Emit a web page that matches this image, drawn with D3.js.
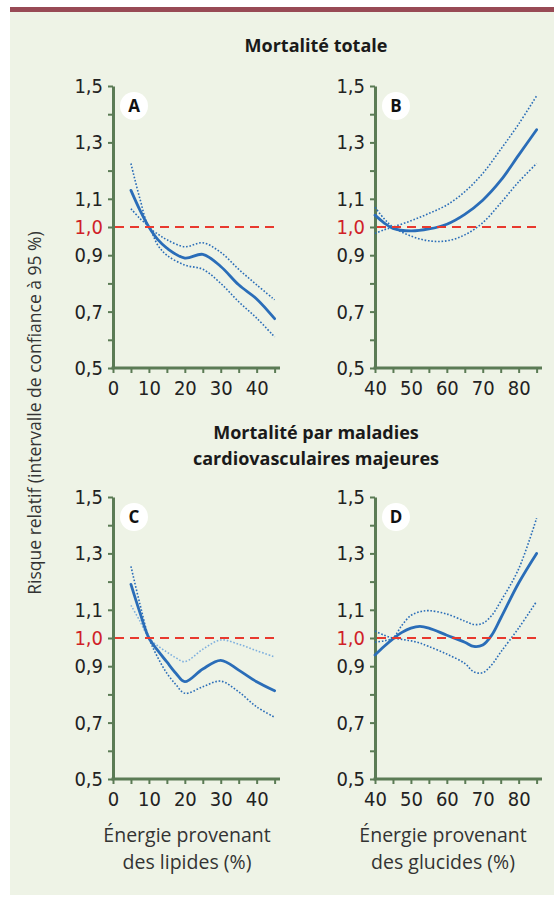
<!DOCTYPE html>
<html>
<head>
<meta charset="utf-8">
<script src="https://cdn.jsdelivr.net/npm/d3@7"></script>
<style>
  body { margin: 0; background: #fff; }
  svg { display: block; }
  .tick text { font-family: "Liberation Sans Narrow", "DejaVu Sans Condensed", sans-serif; }
</style>
</head>
<body>
<div id="chart"></div>
<script>
// Width and height
var w = 554;
var h = 897;

// Panel A : mortalité totale vs lipides
var lipidX = [5, 7.5, 10, 12.5, 15, 20, 25, 30, 35, 40, 45];
var aRR    = [1.13, 1.06, 1.0, 0.955, 0.925, 0.89, 0.903, 0.86, 0.795, 0.745, 0.675];
var aHigh  = [1.225, 1.10, 1.0, 0.975, 0.955, 0.93, 0.944, 0.91, 0.85, 0.795, 0.742];
var aLow   = [1.065, 1.03, 1.0, 0.935, 0.9, 0.865, 0.85, 0.80, 0.735, 0.677, 0.61];

// Panel B : mortalité totale vs glucides
var glucX = [40, 42.5, 45, 50, 55, 60, 65, 70, 75, 80, 85];
var bRR   = [1.042, 1.015, 0.995, 0.986, 0.993, 1.01, 1.045, 1.095, 1.165, 1.255, 1.345];
var bHigh = [0.977, 0.99, 1.0, 1.022, 1.048, 1.078, 1.125, 1.19, 1.275, 1.365, 1.465];
var bLow  = [1.07, 1.03, 1.0, 0.968, 0.951, 0.951, 0.972, 1.015, 1.085, 1.16, 1.225];

// Panel C : maladies cardiovasculaires vs lipides
var lipidX2 = [5, 7.5, 10, 12.5, 15, 17.5, 20, 25, 30, 35, 40, 45];
var cRR   = [1.19, 1.09, 1.0, 0.955, 0.915, 0.875, 0.845, 0.89, 0.921, 0.886, 0.845, 0.813];
var cHigh = [1.116, 1.06, 1.0, 0.972, 0.95, 0.93, 0.916, 0.96, 0.993, 0.978, 0.955, 0.933];
var cLow  = [1.254, 1.12, 1.0, 0.93, 0.875, 0.835, 0.804, 0.827, 0.847, 0.809, 0.756, 0.719];

// Panel D : maladies cardiovasculaires vs glucides
var glucX2 = [40, 42.5, 45, 47.5, 50, 52.5, 55, 60, 65, 67.5, 70, 72.5, 75, 80, 85];
var dRR   = [0.94, 0.97, 0.997, 1.02, 1.035, 1.041, 1.035, 1.01, 0.985, 0.97, 0.975, 1.01, 1.07, 1.195, 1.30];
var dHigh = [0.985, 0.99, 1.0, 1.045, 1.08, 1.093, 1.097, 1.085, 1.06, 1.048, 1.052, 1.08, 1.13, 1.245, 1.425];
var dLow  = [1.025, 1.01, 1.0, 0.995, 0.99, 0.982, 0.97, 0.943, 0.91, 0.88, 0.877, 0.905, 0.95, 1.035, 1.13];

// Ticks
var yTicks = [0.5, 0.6, 0.7, 0.8, 0.9, 1.0, 1.1, 1.2, 1.3, 1.4, 1.5];
var yLabels = [0.5, 0.7, 0.9, 1.0, 1.1, 1.3, 1.5];
var lipidTicks = [0, 5, 10, 15, 20, 25, 30, 35, 40, 45];
var glucTicks = [40, 45, 50, 55, 60, 65, 70, 75, 80, 85];

var axisColor = "#5b7b55";
var blue = "#2a6db8";
var lightBlue = "#7fb0de";
var red = "#e8392e";

var svg = d3.select("#chart")
  .append("svg")
  .attr("width", w)
  .attr("height", h);

// background + top bar
svg.append("rect").attr("x", 10).attr("y", 12).attr("width", w - 10).attr("height", h - 14).attr("fill", "#eef3e6");
svg.append("rect").attr("x", 10).attr("y", 7).attr("width", w - 10).attr("height", 5).attr("fill", "#984a55");

// titles
var titleFont = "'Open Sans', sans-serif";
svg.append("text").attr("x", 316).attr("y", 52)
  .attr("text-anchor", "middle").attr("font-family", titleFont)
  .attr("font-weight", "bold").attr("font-size", "18px").attr("fill", "#1a1a1a")
  .text("Mortalité totale");
svg.append("text").attr("x", 316).attr("y", 439)
  .attr("text-anchor", "middle").attr("font-family", titleFont)
  .attr("font-weight", "bold").attr("font-size", "18px").attr("fill", "#1a1a1a")
  .text("Mortalité par maladies");
svg.append("text").attr("x", 316).attr("y", 465)
  .attr("text-anchor", "middle").attr("font-family", titleFont)
  .attr("font-weight", "bold").attr("font-size", "18px").attr("fill", "#1a1a1a")
  .text("cardiovasculaires majeures");

// y axis title
svg.append("text")
  .attr("transform", "translate(41,413) rotate(-90)")
  .attr("text-anchor", "middle").attr("font-family", titleFont)
  .attr("font-size", "17.5px").attr("fill", "#333")
  .text("Risque relatif (intervalle de confiance à 95 %)");

// x axis titles
[[187, "Énergie provenant", "des lipides (%)"], [443, "Énergie provenant", "des glucides (%)"]].forEach(function(t) {
  var txt = svg.append("text").attr("text-anchor", "middle")
    .attr("font-family", titleFont).attr("font-size", "19.5px").attr("fill", "#333");
  txt.append("tspan").attr("x", t[0]).attr("y", 842).text(t[1]);
  txt.append("tspan").attr("x", t[0]).attr("y", 869).text(t[2]);
});

var fmt = function(v) { return d3.format(".1f")(v).replace(".", ","); };

function drawPanel(letter, xs, rr, high, low, xDomain, xRange, yRange, xTicks, highColor) {
  var x = d3.scaleLinear().domain(xDomain).range(xRange);
  var y = d3.scaleLinear().domain([0.5, 1.5]).range(yRange);
  var g = svg.append("g");

  // y axis
  var yAxis = d3.axisLeft(y).tickValues(yTicks).tickSize(5).tickSizeOuter(0).tickPadding(5)
    .tickFormat(function(d) {
      return yLabels.some(function(v) { return Math.abs(v - d) < 1e-6; }) ? fmt(d) : "";
    });
  var ya = g.append("g").attr("transform", "translate(" + xRange[0] + ",0)").call(yAxis);
  ya.select(".domain").attr("stroke", axisColor).attr("stroke-width", 3);
  ya.selectAll(".tick line").attr("stroke", axisColor).attr("stroke-width", 2);
  ya.selectAll(".tick text").attr("font-size", "20px")
    .attr("fill", function(d) { return Math.abs(d - 1) < 1e-6 ? "#d01f28" : "#222"; });

  // x axis
  var xAxis = d3.axisBottom(x).tickValues(xTicks).tickSize(5).tickSizeOuter(0).tickPadding(8)
    .tickFormat(function(d) { return d % 10 === 0 ? d : ""; });
  var xa = g.append("g").attr("transform", "translate(0," + yRange[0] + ")").call(xAxis);
  xa.select(".domain").attr("stroke", axisColor).attr("stroke-width", 3)
    .attr("d", "M" + (xRange[0] - 1.5) + ",0H" + xRange[1]);
  xa.selectAll(".tick line").attr("stroke", axisColor).attr("stroke-width", 2);
  xa.selectAll(".tick text").attr("font-size", "20px").attr("fill", "#222");

  var line = d3.line()
    .x(function(d) { return x(d[0]); })
    .y(function(d) { return y(d[1]); })
    .curve(d3.curveCatmullRom.alpha(0.5));

  // confidence interval (dotted)
  g.append("path").datum(d3.zip(xs, high)).attr("d", line)
    .attr("fill", "none").attr("stroke", highColor).attr("stroke-width", 1.6)
    .attr("stroke-dasharray", "1.6,1.8");
  g.append("path").datum(d3.zip(xs, low)).attr("d", line)
    .attr("fill", "none").attr("stroke", blue).attr("stroke-width", 1.6)
    .attr("stroke-dasharray", "1.6,1.8");

  // relative risk
  g.append("path").datum(d3.zip(xs, rr)).attr("d", line)
    .attr("fill", "none").attr("stroke", blue).attr("stroke-width", 2.8)
    .attr("stroke-linecap", "round");

  // reference RR = 1
  g.append("line")
    .attr("x1", xRange[0] + 2).attr("x2", xRange[1])
    .attr("y1", y(1)).attr("y2", y(1))
    .attr("stroke", red).attr("stroke-width", 2).attr("stroke-dasharray", "9,6");

  // panel letter
  g.append("circle").attr("cx", xRange[0] + 21).attr("cy", yRange[1] + 20).attr("r", 14).attr("fill", "#fff");
  g.append("text").attr("x", xRange[0] + 21).attr("y", yRange[1] + 26)
    .attr("text-anchor", "middle").attr("font-family", titleFont)
    .attr("font-weight", "bold").attr("font-size", "17px").attr("fill", "#111")
    .text(letter);
}

drawPanel("A", lipidX, aRR, aHigh, aLow, [0, 46.5], [113, 280], [368, 86], lipidTicks, blue);
drawPanel("B", glucX, bRR, bHigh, bLow, [40, 86.5], [375, 542], [368, 86], glucTicks, blue);
drawPanel("C", lipidX2, cRR, cHigh, cLow, [0, 46.5], [113, 280], [779, 497], lipidTicks, lightBlue);
drawPanel("D", glucX2, dRR, dHigh, dLow, [40, 86.5], [375, 542], [779, 497], glucTicks, blue);
</script>
</body>
</html>
